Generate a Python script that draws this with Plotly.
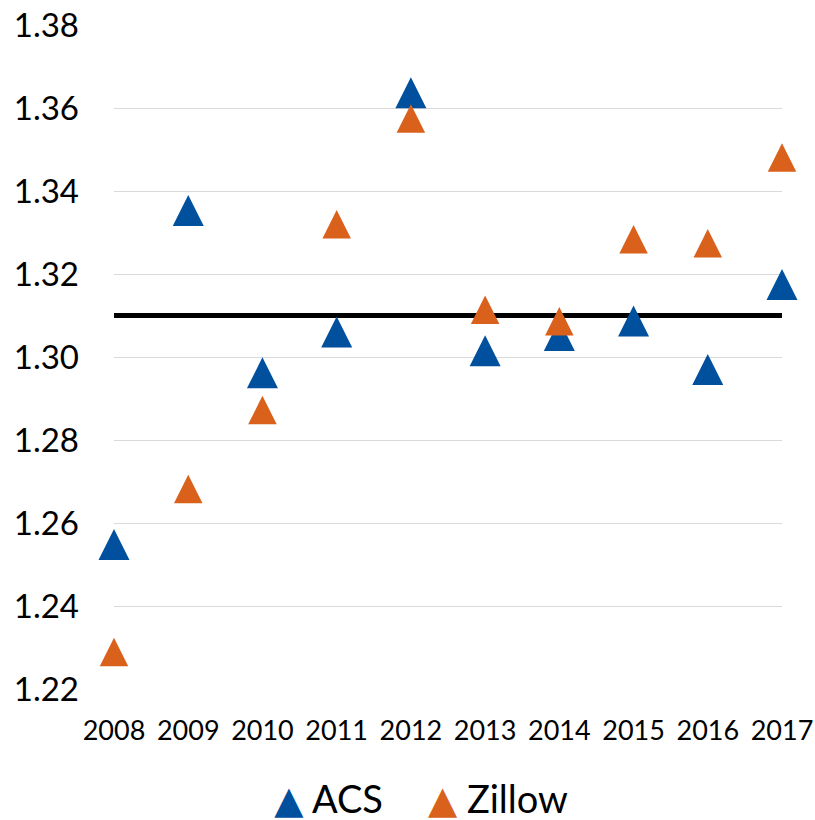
import plotly.graph_objects as go

# Ratio by year, two data sources, against a reference level
years = ["2008", "2009", "2010", "2011", "2012", "2013", "2014", "2015", "2016", "2017"]
acs = [1.2548, 1.3353, 1.2962, 1.3060, 1.3637, 1.3015, 1.3052, 1.3087, 1.2970, 1.3175]
zillow = [1.2289, 1.2682, 1.2872, 1.3320, 1.3575, 1.3114, 1.3086, 1.3284, 1.3274, 1.3481]
reference_level = 1.31
y_ticks = [1.22, 1.24, 1.26, 1.28, 1.30, 1.32, 1.34, 1.36, 1.38]

BLUE = "#00509D"
ORANGE = "#D9611C"
FONT = "Lato, 'DejaVu Sans', sans-serif"


def triangle(size):
    # isosceles triangle (height = width) centred on the point:
    # a downward arrow turned upside down, pushed back by half its size
    return dict(symbol="arrow-down", angle=180, standoff=size / 2, size=size)


fig = go.Figure()

fig.add_trace(go.Scatter(
    x=years, y=[reference_level] * len(years), mode="lines",
    line=dict(color="black", width=5), showlegend=False, hoverinfo="skip",
))

fig.add_trace(go.Scatter(
    x=years, y=acs, mode="markers", name="ACS", showlegend=False,
    marker=dict(color=BLUE, line=dict(width=0), **triangle(31)),
    cliponaxis=False,
))
fig.add_trace(go.Scatter(
    x=years, y=zillow, mode="markers", name="Zillow", showlegend=False,
    marker=dict(color=ORANGE, line=dict(width=0), **triangle(28.5)),
    cliponaxis=False,
))

# legend entries: the symbol is shown as a large glyph in the entry text
for name, color in [("ACS", BLUE), ("Zillow", ORANGE)]:
    fig.add_trace(go.Scatter(
        x=[None], y=[None], mode="markers",
        marker=dict(color="rgba(0,0,0,0)", size=1, line=dict(width=0)),
        name=f'<span style="color:{color}">▲</span> {name}',
        showlegend=True,
    ))

fig.update_layout(
    width=815, height=820,
    margin=dict(l=114, r=33, t=25, b=131, autoexpand=False),
    paper_bgcolor="white", plot_bgcolor="white",
    font=dict(family=FONT, color="black"),
    showlegend=True,
    legend=dict(
        orientation="h", x=0.18, xanchor="left", y=-0.117, yanchor="top",
        font=dict(size=38, family=FONT, color="black"),
        itemwidth=30, itemclick=False, itemdoubleclick=False,
    ),
)

fig.update_xaxes(
    type="category", categoryorder="array", categoryarray=years,
    range=[0, len(years) - 1], automargin=False,
    showgrid=False, zeroline=False, showline=False, ticks="",
    tickfont=dict(size=27, family=FONT, color="black"),
    ticklabelstandoff=23,
)
fig.update_yaxes(
    range=[y_ticks[0], y_ticks[-1]], tickvals=y_ticks, tickformat=".2f",
    automargin=False,
    showgrid=True, gridcolor="#D9D9D9", gridwidth=1.3,
    zeroline=False, showline=False, ticks="",
    tickfont=dict(size=33, family=FONT, color="black"),
    ticklabelstandoff=34,
)

fig.write_html("out.html")
